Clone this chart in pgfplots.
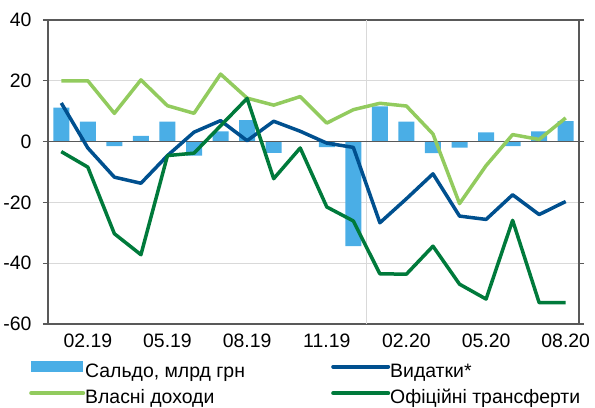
\documentclass[border=0pt]{standalone}
\usepackage{pgfplots}
\usepackage{pgfplotstable}
\pgfplotsset{compat=1.18}
\usepackage{fontspec}
\setmainfont{Liberation Sans}

\definecolor{saldo}{HTML}{4AAEE6}
\definecolor{vyd}{HTML}{00508F}
\definecolor{vlas}{HTML}{92CB5E}
\definecolor{ofic}{HTML}{007A3B}
\definecolor{frame}{HTML}{595959}
\definecolor{gridc}{HTML}{D9D9D9}

% month index (0 = 01.19), saldo, expenditures, own revenues, official transfers
\pgfplotstableread{
i saldo vyd vlas ofic
0 11.2 12.7 20.0 -3.3
1 6.6 -2.1 20.0 -8.4
2 -1.5 -11.7 9.3 -30.3
3 1.9 -13.7 20.3 -37.2
4 6.6 -4.6 11.8 -4.6
5 -4.6 3.1 9.3 -3.8
6 3.4 6.9 22.2 5.2
7 7.1 0.3 14.3 14.2
8 -3.7 6.7 12.0 -12.2
9 0.0 3.4 14.8 -2.1
10 -1.8 -0.5 6.1 -21.5
11 -34.4 -1.9 10.5 -26.1
12 11.6 -26.7 12.6 -43.5
13 6.6 -18.8 11.7 -43.6
14 -3.8 -10.6 2.5 -34.4
15 -2.0 -24.5 -20.4 -46.9
16 3.0 -25.6 -7.9 -51.8
17 -1.5 -17.5 2.3 -25.9
18 3.4 -24.0 0.7 -53.0
19 6.7 -19.7 7.8 -53.0
}\data

\begin{document}
\begin{tikzpicture}
\path[use as bounding box] (-48bp,-84bp) rectangle (547bp,324bp);
\begin{axis}[
    at={(0,0)}, anchor=south west,
    scale only axis, width=531bp, height=304bp,
    xmin=-0.5, xmax=19.5, ymin=-60, ymax=40,
    font=\fontsize{19.5}{22}\selectfont,
    axis line style={frame, line width=1.5bp},
    xtick={1,4,7,10,13,16,19},
    xticklabels={02.19,05.19,08.19,11.19,02.20,05.20,08.20},
    major x tick style={draw=none},
    ytick={-60,-40,-20,0,20,40},
    yticklabels={-60,-40,-20,0,20,40},
    tick align=outside, major tick length=5bp,
    y tick style={frame, line width=1.2bp},
    ymajorgrids, grid style={gridc, line width=1bp},
    xticklabel style={yshift=-1bp},
    yticklabel style={xshift=-8bp},
    legend columns=2,
    legend cell align=left,
    legend style={at={(0,0)}, anchor=north west, xshift=-19bp, yshift=-37bp,
        draw=none, fill=none, inner sep=0pt, row sep=8.5bp, column sep=0bp,
        font=\fontsize{19.5}{22}\selectfont,
        nodes={inner sep=0pt, text height=14bp, text depth=4bp}},
]
\draw[gridc, line width=1bp] (axis cs:11.5,-60) -- (axis cs:11.5,40);
\addplot[ybar, bar width=16bp, fill=saldo, draw=none,
    legend image code/.code={\fill[saldo] (0bp,0bp) rectangle (52bp,11bp);}]
    table[x=i, y=saldo] {\data};
\addlegendentry{\makebox[246bp][l]{Сальдо, млрд грн}}
\draw[frame, line width=1.8bp] (axis cs:-0.5,0) -- (axis cs:19.5,0);
\addplot[vyd, line width=3.5bp, line join=round,
    legend image code/.code={\draw[vyd, line width=4bp, line cap=round] (0bp,5.5bp) -- (55bp,5.5bp);}]
    table[x=i, y=vyd] {\data};
\addlegendentry{Видатки*}
\addplot[vlas, line width=3.5bp, line join=round,
    legend image code/.code={\draw[vlas, line width=4bp, line cap=round] (0bp,5.5bp) -- (52bp,5.5bp);}]
    table[x=i, y=vlas] {\data};
\addlegendentry{\makebox[246bp][l]{Власні доходи}}
\addplot[ofic, line width=3.5bp, line join=round,
    legend image code/.code={\draw[ofic, line width=4bp, line cap=round] (0bp,5.5bp) -- (55bp,5.5bp);}]
    table[x=i, y=ofic] {\data};
\addlegendentry{Офіційні трансферти}
\end{axis}
\end{tikzpicture}
\end{document}
